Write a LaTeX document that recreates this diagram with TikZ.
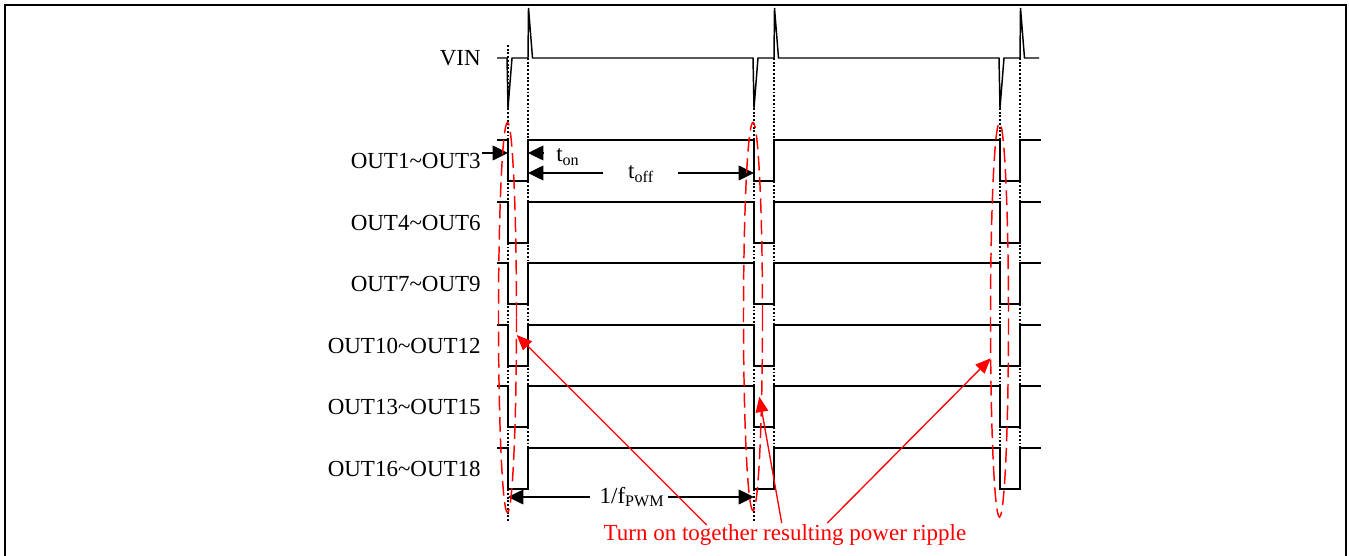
\documentclass[tikz,border=0pt]{standalone}
\usepackage{fontspec}
\setmainfont{Liberation Serif}
\usetikzlibrary{arrows.meta}
\begin{document}
\begin{tikzpicture}[x=0.75pt,y=-0.75pt,
  wave/.style={line width=1.1pt, line join=miter},
  guide/.style={line width=0.9pt, dash pattern=on 1.4pt off 1.4pt},
  dimarrow/.style={line width=1.1pt, -{Triangle[length=11.5pt,width=11pt]}},
  ripple/.style={red, line width=1.1pt, dash pattern=on 11pt off 5pt},
  redarrow/.style={red, line width=1pt, -{Triangle[length=11.5pt,width=9.5pt]}},
  lbl/.style={inner sep=0pt, font=\fontsize{17.25}{20}\selectfont},
  redlbl/.style={lbl, text=red}]
\useasboundingbox (0,0) rectangle (1349,556);
% frame
\draw[line width=1.5pt] (5,556) -- (5,5) -- (1346,5) -- (1346,556);
% guides
\draw[guide] (508,45) -- (508,522);
\draw[guide] (754,108) -- (754,522);
\draw[guide] (1000,108) -- (1000,488);
\foreach \x in {528,774,1020} \draw[guide] (\x,58) -- (\x,488);
% VIN
\node[lbl, anchor=east] (vin) at (481,58) {VIN};
\draw[wave] (497,58) -- (507,58) -- (508,108) -- (512,58) -- (528,58) -- (528.5,8) -- (532.5,58)
  -- (753,58) -- (754,108) -- (758,58) -- (774,58) -- (774.5,8) -- (778.5,58)
  -- (999,58) -- (1000,108) -- (1004,58) -- (1020,58) -- (1020.5,8) -- (1024.5,58) -- (1039,58);
% OUT rows
\foreach \h/\t [count=\i] in {140/OUT1\textasciitilde OUT3, 202/OUT4\textasciitilde OUT6, 263/OUT7\textasciitilde OUT9,
  325/OUT10\textasciitilde OUT12, 386/OUT13\textasciitilde OUT15, 448/OUT16\textasciitilde OUT18} {
  \pgfmathsetmacro\l{\h+41}
  \node[lbl, anchor=east] (out\i) at (481,\h+21) {\t};
  \draw[wave] (497,\h) -- (508,\h) -- (508,\l) -- (528,\l) -- (528,\h) -- (754,\h) -- (754,\l) -- (774,\l) -- (774,\h)
    -- (1000,\h) -- (1000,\l) -- (1020,\l) -- (1020,\h) -- (1041,\h);
}
% t_on
\coordinate (ona) at (482,153);
\coordinate (onb) at (508,153);
\coordinate (onc) at (543,153);
\coordinate (ond) at (528,153);
\draw[dimarrow] (ona) -- (onb);
\draw[dimarrow] (onc) -- (ond);
\node[lbl, anchor=west] (ton) at (556,157) {t\textsubscript{on}};
% t_off
\node[lbl] (toff) at (641,174) {t\textsubscript{off}};
\coordinate (offl) at (528,173);
\coordinate (offr) at (754,173);
\draw[dimarrow] (603,173) -- (offl);
\draw[dimarrow] (678,173) -- (offr);
% 1/fPWM
\node[lbl] (fpwm) at (632,497) {1/f\textsubscript{PWM}};
\coordinate (pl) at (508,497);
\coordinate (pr) at (754,497);
\draw[dimarrow] (590,497) -- (pl);
\draw[dimarrow] (668,497) -- (pr);
% ellipses
\draw[ripple] (507.5,317.5) ellipse [x radius=9, y radius=195];
\draw[ripple] (753,316.5) ellipse [x radius=9.5, y radius=194];
\draw[ripple] (999.5,320) ellipse [x radius=9, y radius=197];
% red note
\node[redlbl] (note) at (785,535) {Turn on together resulting power ripple};
\coordinate (r1) at (516.7,335);
\coordinate (r2) at (759.3,396.7);
\coordinate (r3) at (990.7,358.3);
\draw[redarrow] (706.7,525) -- (r1);
\draw[redarrow] (781.7,523) -- (r2);
\draw[redarrow] (827.3,523) -- (r3);
\end{tikzpicture}
\end{document}
